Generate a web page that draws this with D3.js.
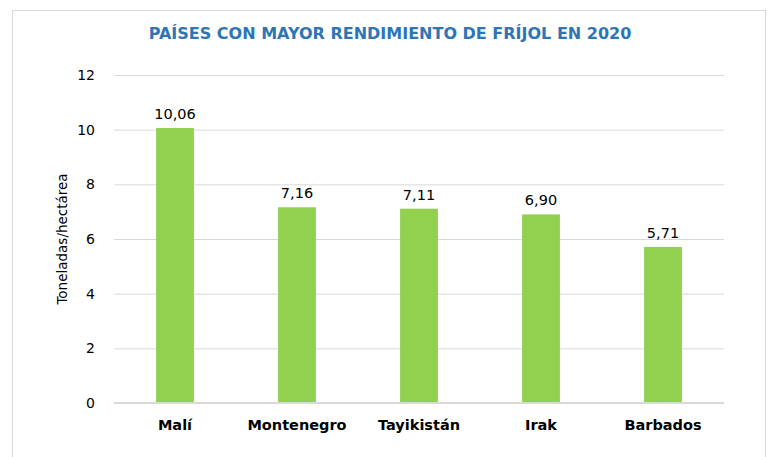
<!DOCTYPE html>
<html>
<head>
<meta charset="utf-8">
<script src="https://cdn.jsdelivr.net/npm/d3@7"></script>
<style>
  html, body { margin: 0; padding: 0; background: #fff; }
  svg { display: block; }
</style>
</head>
<body>
<script>
const categories = ["Malí", "Montenegro", "Tayikistán", "Irak", "Barbados"];
const values = [10.06, 7.16, 7.11, 6.90, 5.71];
const valueLabels = ["10,06", "7,16", "7,11", "6,90", "5,71"];
const yTicks = [0, 2, 4, 6, 8, 10, 12];
const titleText = "PAÍSES CON MAYOR RENDIMIENTO DE FRÍJOL EN 2020";
const yAxisTitle = "Toneladas/hectárea";

const W = 767, H = 457;
const margin = { left: 114, right: 43, top: 75, bottom: 54 };
const font = "'DejaVu Sans', sans-serif";

const svg = d3.select("body").append("svg").attr("width", W).attr("height", H);

// chart border
svg.append("rect")
  .attr("x", 12.5).attr("y", 10.5)
  .attr("width", 753).attr("height", 460)
  .attr("fill", "#fff").attr("stroke", "#D9D9D9").attr("stroke-width", 1);

const x = d3.scaleBand().domain(categories)
  .range([margin.left, W - margin.right])
  .paddingInner(0.69).paddingOuter(0.345);
const y = d3.scaleLinear().domain([0, 12]).range([H - margin.bottom, margin.top]);

// gridlines
const yAxis = d3.axisLeft(y).tickValues(yTicks).tickSize(-(W - margin.right - margin.left)).tickPadding(19).tickFormat(d3.format("d"));
const gy = svg.append("g").attr("transform", `translate(${margin.left},0)`).call(yAxis);
gy.select(".domain").remove();
gy.selectAll(".tick line").attr("stroke", "#D9D9D9").attr("stroke-width", 1);
gy.selectAll(".tick text").attr("font-family", font).attr("font-size", 14).attr("fill", "#000");

// bars
svg.append("g").selectAll("rect").data(values).join("rect")
  .attr("x", (d, i) => x(categories[i]))
  .attr("width", x.bandwidth())
  .attr("y", d => y(d))
  .attr("height", d => y(0) - y(d))
  .attr("fill", "#92D050");

// value labels
svg.append("g").selectAll("text").data(values).join("text")
  .attr("x", (d, i) => x(categories[i]) + x.bandwidth() / 2)
  .attr("y", d => y(d) - 9)
  .attr("text-anchor", "middle")
  .attr("font-family", font).attr("font-size", 14.5).attr("fill", "#000")
  .text((d, i) => valueLabels[i]);

// x axis
const xAxis = d3.axisBottom(x).tickSize(0).tickPadding(17);
const gx = svg.append("g").attr("transform", `translate(0,${y(0)})`).call(xAxis);
gx.select(".domain").attr("stroke", "#D9D9D9").attr("stroke-width", 2).attr("d", `M${margin.left},0H${W - margin.right}`);
gx.selectAll(".tick text").attr("font-family", font).attr("font-size", 14.5).attr("font-weight", "bold").attr("fill", "#000");

// y axis title
svg.append("text")
  .attr("transform", `translate(67,${(y(0) + y(12)) / 2}) rotate(-90)`)
  .attr("text-anchor", "middle")
  .attr("font-family", font).attr("font-size", 13.5).attr("fill", "#000")
  .text(yAxisTitle);

// title
svg.append("text")
  .attr("x", 390).attr("y", 39)
  .attr("text-anchor", "middle")
  .attr("font-family", font).attr("font-size", 16).attr("font-weight", "bold").attr("fill", "#2E75B6")
  .text(titleText);
</script>
</body>
</html>
